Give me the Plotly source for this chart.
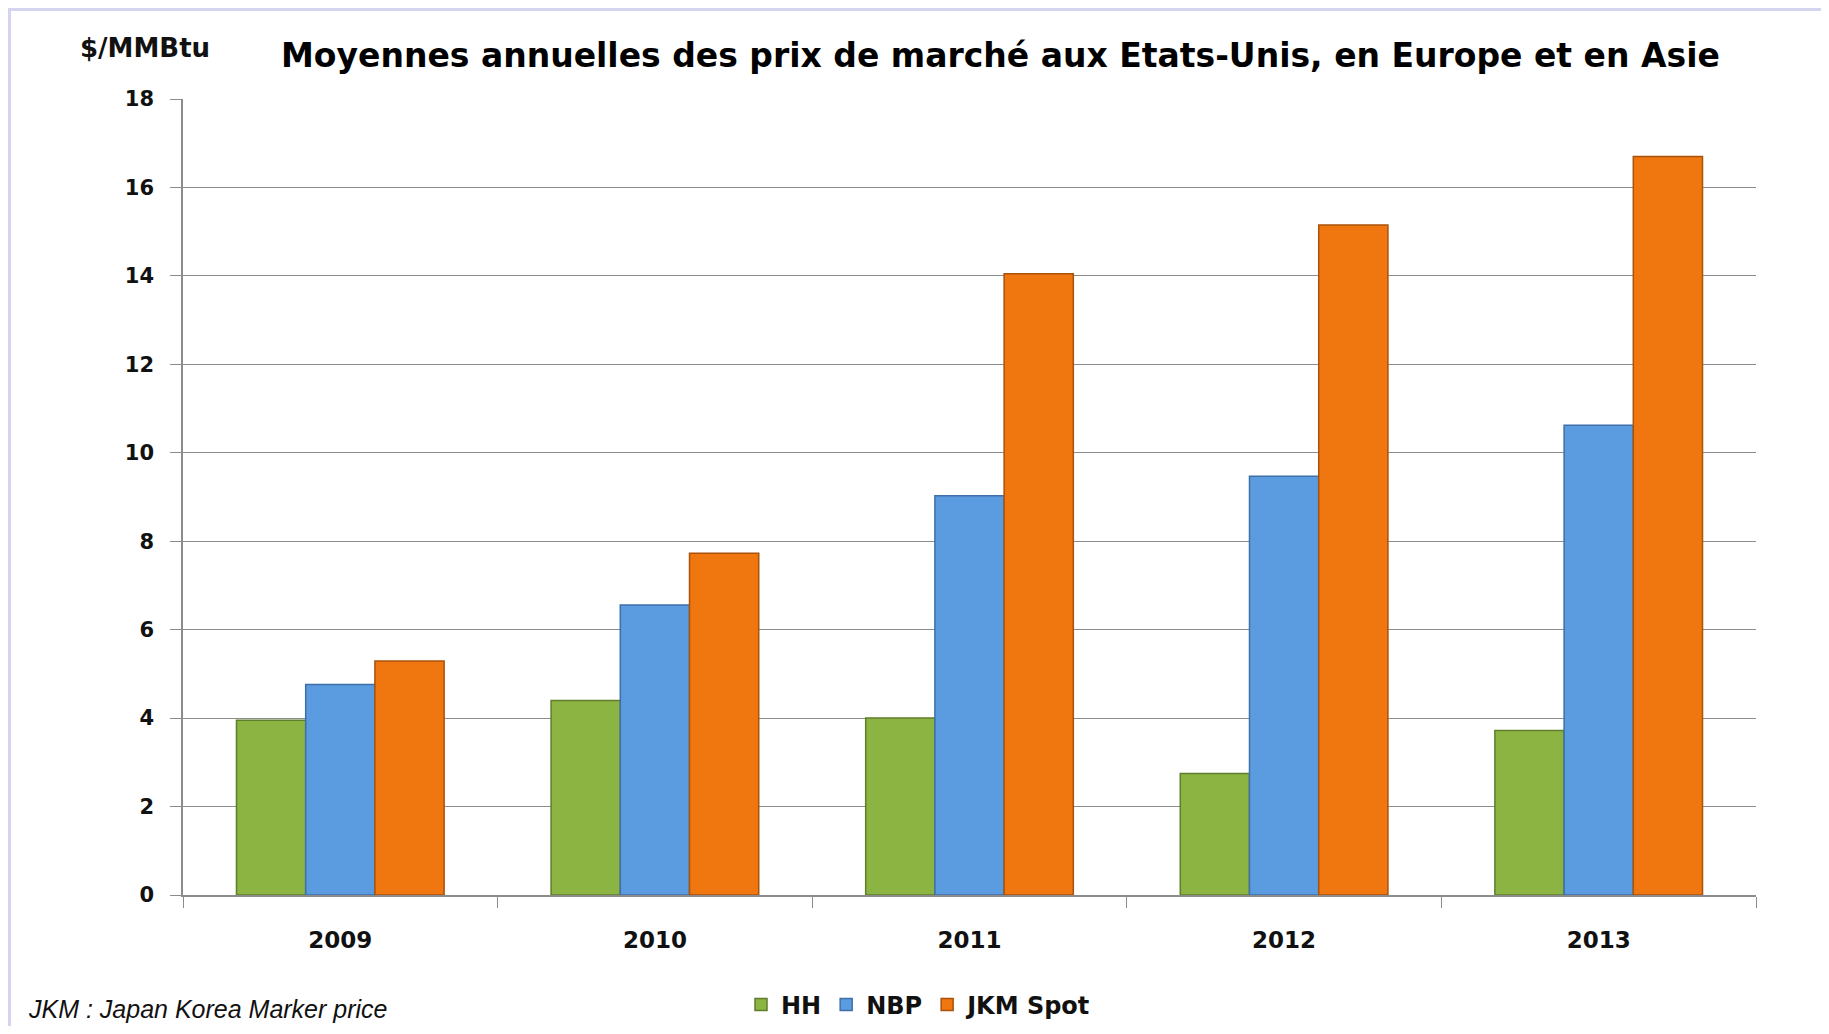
import plotly.graph_objs as go

years = ['2009', '2010', '2011', '2012', '2013']
hh = [3.95, 4.40, 4.00, 2.75, 3.72]
nbp = [4.76, 6.56, 9.03, 9.47, 10.62]
jkm = [5.29, 7.73, 14.05, 15.15, 16.70]

series = [
    ('HH', hh, '#8cb443', '#5f7d2a'),
    ('NBP', nbp, '#5b9be0', '#3f6fa8'),
    ('JKM Spot', jkm, '#f07610', '#a9520b'),
]

# page has an 8px body margin, so the figure is a bit smaller than the window
W, H = 1813, 1018
L, T = 175, 91
pw, ph = 1573, 796
R = W - L - pw
B = H - T - ph


def px(x):
    return (x - L) / pw


def py(y):
    return (T + ph - y) / ph


bold = 'DejaVu Sans'
data = []
for name, vals, col, edge in series:
    data.append(go.Bar(x=years, y=vals, name=name,
                       marker=dict(color=col, line=dict(color=edge, width=1.5))))

layout = go.Layout(
    width=W, height=H,
    margin=dict(l=L, r=R, t=T, b=B, autoexpand=False),
    paper_bgcolor='white', plot_bgcolor='white',
    barmode='group', bargap=0.34, bargroupgap=0,
    showlegend=True,
    legend=dict(orientation='h', x=px(911), xanchor='center',
                y=py(997), yanchor='middle',
                font=dict(family=bold, size=24, color='#111111', weight='bold'),
                itemwidth=30, traceorder='normal'),
    xaxis=dict(showline=True, linecolor='#8c8c8c', linewidth=1.5,
               ticks='outside', tickson='boundaries', ticklen=11,
               tickcolor='#8c8c8c',
               tickfont=dict(family=bold, size=23, color='#111111', weight='bold'),
               ticklabelstandoff=24),
    yaxis=dict(range=[0, 18], dtick=2, showgrid=True, gridcolor='#8c8c8c',
               gridwidth=1.3, showline=True, linecolor='#8c8c8c', linewidth=1.5,
               ticks='outside', ticklen=11, tickcolor='#8c8c8c',
               tickfont=dict(family=bold, size=21, color='#111111', weight='bold'),
               ticklabelstandoff=12, zeroline=False),
    annotations=[
        dict(text='Moyennes annuelles des prix de marché aux Etats-Unis, en Europe et en Asie',
             xref='paper', yref='paper', x=px(992), y=py(47),
             xanchor='center', yanchor='middle', showarrow=False,
             font=dict(family=bold, size=33, color='black', weight='bold')),
        dict(text='$/MMBtu', xref='paper', yref='paper',
             x=px(70), y=py(40), xanchor='left', yanchor='middle',
             showarrow=False, font=dict(family=bold, size=26, color='#111111', weight='bold')),
        dict(text='<i>JKM : Japan Korea Marker price</i>', xref='paper', yref='paper',
             x=px(18), y=py(1017), xanchor='left', yanchor='bottom',
             showarrow=False, font=dict(family='Liberation Sans', size=25, color='#111111')),
    ],
    shapes=[
        dict(type='line', xref='paper', yref='paper',
             x0=px(0), x1=px(W), y0=py(1), y1=py(1),
             line=dict(color='#d4d4ee', width=4)),
        dict(type='line', xref='paper', yref='paper',
             x0=px(1), x1=px(1), y0=py(0), y1=py(H),
             line=dict(color='#d4d4ee', width=4)),
    ],
)

fig = go.Figure(data=data, layout=layout)
fig.write_html('out.html')
